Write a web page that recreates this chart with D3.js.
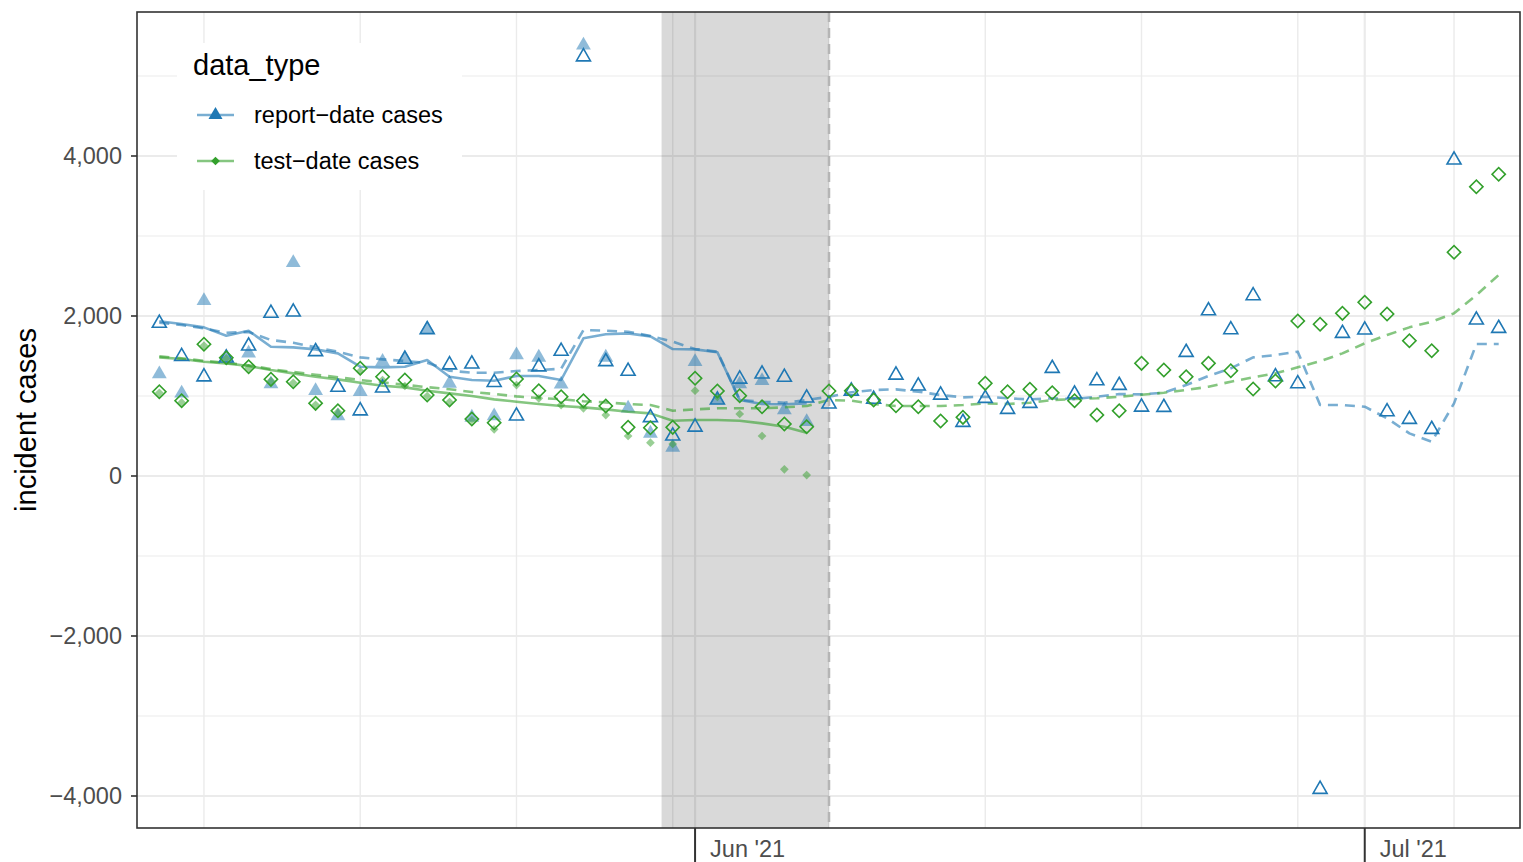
<!DOCTYPE html>
<html>
<head>
<meta charset="UTF-8">
<script src="https://d3js.org/d3.v7.min.js"></script>
<style>
  body { margin: 0; background: #fff; }
  svg { font-family: "Liberation Sans", Arial, sans-serif; display: block; }
</style>
</head>
<body>
<div id="chart"></div>
<script>
// one value per day, May 8 2021 .. Jul 7 2021
const firstDay = new Date(Date.UTC(2021, 4, 8));
const lastDay = new Date(Date.UTC(2021, 6, 7));
// earlier vintage ends Jun 6
const prevLastDay = new Date(Date.UTC(2021, 5, 6));

const reportCases = [1910,1495,1240,1475,1625,2035,2050,1555,1110,815,1100,1460,1830,1390,1400,1170,750,1365,1560,5240,1430,1310,730,500,
  612,950,1212,1275,1235,975,900,1062,960,1262,1125,1012,671,971,833,908,1346,1025,1191,1133,862,858,1546,2066,1829,2254,1241,1154,-3916,1783,
  1825,804,708,583,3950,1950,1846];
const testCases = [1054,941,1646,1479,1366,1208,1179,908,816,1346,1241,1200,1012,950,712,666,1212,1066,991,941,875,608,604,608,
  1221,1062,1004,866,650,616,1062,1066,950,877,866,687,733,1158,1054,1083,1041,941,762,816,1408,1325,1241,1408,1316,1087,1187,1937,1896,2033,
  2171,2025,1691,1566,2796,3616,3771];
const reportAvg = [1916,1887,1846,1791,1800,1700,1666,1608,1554,1483,1458,1437,1416,1316,1291,1291,1312,1325,1340,1825,1816,1804,1750,1679,
  1587,1554,950,929,916,950,991,1046,1075,1083,1054,1012,983,991,971,958,971,962,991,1025,1020,1041,1137,1250,1346,1483,1512,1554,887,887,
  866,721,533,429,908,1650,1650];
const testAvg = [1495,1470,1440,1415,1385,1335,1300,1265,1235,1200,1170,1140,1110,1085,1050,1025,995,975,960,935,920,900,887,816,
  833,846,846,846,858,875,950,941,900,875,875,875,887,908,900,916,950,962,971,991,1015,1041,1075,1116,1179,1233,1283,1358,1435,1533,
  1658,1762,1858,1929,2033,2262,2512];

// earlier vintage, May 8 .. Jun 6
const reportPrev = [1275,1035,2190,1485,1535,1150,2665,1065,750,1055,1430,1470,1837,1158,733,750,1512,1483,1146,5385,1483,846,533,358,
  1429,950,1150,1190,825,679];
const testPrev = [1040,920,1630,1470,1350,1190,1165,890,800,1310,1200,1125,1000,925,700,583,1137,971,887,846,762,500,416,400,
  1066,990,775,500,83,12];
const reportAvgPrev = [1935,1900,1858,1754,1816,1616,1608,1583,1533,1366,1358,1366,1450,1241,1200,1191,1250,1250,1200,1721,1771,1783,1745,1587,
  1583,1546,950,900,896,908];
const testAvgPrev = [1483,1462,1429,1408,1375,1325,1283,1241,1208,1166,1129,1108,1066,1033,1000,958,929,900,875,858,833,804,783,691,
  700,700,691,658,616,541];

const yMajor = [-4000, -2000, 0, 2000, 4000];
const yMinor = [-3000, -1000, 1000, 3000, 5000];
const legendItems = ["report\u2212date cases", "test\u2212date cases"];

// shaded window and cut-off line
const shadeStart = new Date(Date.UTC(2021, 4, 30, 12));
const shadeEnd = new Date(Date.UTC(2021, 5, 7));

const width = 1523, height = 862;
const panel = { left: 137, right: 1520, top: 12, bottom: 828 };

const blue = "#1f78b4", green = "#33a02c";
const blueLine = "rgba(31,120,180,0.6)", greenLine = "rgba(51,160,44,0.6)";
const blueFill = "rgba(31,120,180,0.5)", greenFill = "rgba(51,160,44,0.5)";

const days = d3.utcDay.range(firstDay, d3.utcDay.offset(lastDay, 1));
const prevDays = d3.utcDay.range(firstDay, d3.utcDay.offset(prevLastDay, 1));
const pack = (dd, vals) => dd.map((d, i) => ({ date: d, v: vals[i] }));

const x = d3.scaleUtc()
  .domain([new Date(Date.UTC(2021, 4, 7)), new Date(Date.UTC(2021, 6, 8))])
  .range([panel.left, 1521]);
const y = d3.scaleLinear().domain([-4400, 5800]).range([panel.bottom, panel.top]);

const svg = d3.select("#chart").append("svg")
  .attr("width", width).attr("height", height);

// grid
const grid = svg.append("g");
grid.selectAll(".ymin").data(yMinor).enter().append("line")
  .attr("x1", panel.left).attr("x2", panel.right)
  .attr("y1", d => y(d)).attr("y2", d => y(d))
  .attr("stroke", "#ebebeb").attr("stroke-width", 1.1);
grid.selectAll(".ymaj").data(yMajor).enter().append("line")
  .attr("x1", panel.left).attr("x2", panel.right)
  .attr("y1", d => y(d)).attr("y2", d => y(d))
  .attr("stroke", "#ebebeb").attr("stroke-width", 2.2);
const weeks = d3.utcMonday.range(x.domain()[0], x.domain()[1]);
grid.selectAll(".xmin").data(weeks).enter().append("line")
  .attr("x1", d => x(d)).attr("x2", d => x(d))
  .attr("y1", panel.top).attr("y2", panel.bottom)
  .attr("stroke", "#ebebeb").attr("stroke-width", 1.4);
const months = d3.utcMonth.range(x.domain()[0], x.domain()[1]);
grid.selectAll(".xmaj").data(months).enter().append("line")
  .attr("x1", d => x(d)).attr("x2", d => x(d))
  .attr("y1", panel.top).attr("y2", panel.bottom)
  .attr("stroke", "#ebebeb").attr("stroke-width", 2.2);

// shaded window
svg.append("rect")
  .attr("x", x(shadeStart)).attr("y", panel.top)
  .attr("width", x(shadeEnd) - x(shadeStart)).attr("height", panel.bottom - panel.top)
  .attr("fill", "rgba(0,0,0,0.15)");
svg.append("line")
  .attr("x1", x(shadeEnd)).attr("x2", x(shadeEnd))
  .attr("y1", panel.top).attr("y2", panel.bottom)
  .attr("stroke", "#b5b5b5").attr("stroke-width", 2.5)
  .attr("stroke-dasharray", "10,6");

const tri = d3.symbol().type(d3.symbolTriangle);
const sq = d3.symbol().type(d3.symbolSquare);

// earlier vintage points
svg.append("g").selectAll("path").data(pack(prevDays, reportPrev)).enter().append("path")
  .attr("d", tri.size(95)())
  .attr("transform", d => `translate(${x(d.date)},${y(d.v)})`)
  .attr("fill", blueFill);
svg.append("g").selectAll("path").data(pack(prevDays, testPrev)).enter().append("path")
  .attr("d", sq.size(38)())
  .attr("transform", d => `translate(${x(d.date)},${y(d.v)}) rotate(45)`)
  .attr("fill", greenFill);

// lines
const line = d3.line().x(d => x(d.date)).y(d => y(d.v)).defined(d => d.v != null);
function drawLine(dd, vals, color, dashed) {
  svg.append("path").datum(pack(dd, vals))
    .attr("d", line)
    .attr("fill", "none")
    .attr("stroke", color)
    .attr("stroke-width", 2.6)
    .attr("stroke-linejoin", "round")
    .attr("stroke-dasharray", dashed ? "10,7" : null);
}
drawLine(prevDays, reportAvgPrev, blueLine, false);
drawLine(prevDays, testAvgPrev, greenLine, false);
drawLine(days, reportAvg, blueLine, true);
drawLine(days, testAvg, greenLine, true);

// current points
svg.append("g").selectAll("path").data(pack(days, reportCases)).enter().append("path")
  .attr("d", tri.size(85)())
  .attr("transform", d => `translate(${x(d.date)},${y(d.v)})`)
  .attr("fill", "none").attr("stroke", blue).attr("stroke-width", 1.6);
svg.append("g").selectAll("path").data(pack(days, testCases)).enter().append("path")
  .attr("d", sq.size(88)())
  .attr("transform", d => `translate(${x(d.date)},${y(d.v)}) rotate(45)`)
  .attr("fill", "none").attr("stroke", green).attr("stroke-width", 1.6);

// legend
const legend = svg.append("g");
legend.append("rect")
  .attr("x", 177).attr("y", 43).attr("width", 285).attr("height", 147)
  .attr("fill", "#fff");
legend.append("text")
  .attr("x", 193).attr("y", 75)
  .attr("font-size", 29).attr("fill", "#000")
  .text("data_type");
legendItems.forEach((label, i) => {
  const cy = 115 + i * 46;
  legend.append("line")
    .attr("x1", 197).attr("x2", 234).attr("y1", cy).attr("y2", cy)
    .attr("stroke", i === 0 ? blueLine : greenLine).attr("stroke-width", 2.6);
  legend.append("path")
    .attr("d", i === 0 ? tri.size(85)() : sq.size(38)())
    .attr("transform", i === 0 ? `translate(215.5,${cy})` : `translate(215.5,${cy}) rotate(45)`)
    .attr("fill", i === 0 ? blue : green);
  legend.append("text")
    .attr("x", 254).attr("y", cy).attr("dy", "0.35em")
    .attr("font-size", 23.5).attr("fill", "#000")
    .text(label);
});

// panel border
svg.append("rect")
  .attr("x", panel.left).attr("y", panel.top)
  .attr("width", panel.right - panel.left).attr("height", panel.bottom - panel.top)
  .attr("fill", "none").attr("stroke", "#333").attr("stroke-width", 1.6);

// y axis
const yAxis = svg.append("g");
yAxis.selectAll("line").data(yMajor).enter().append("line")
  .attr("x1", panel.left - 6).attr("x2", panel.left)
  .attr("y1", d => y(d)).attr("y2", d => y(d))
  .attr("stroke", "#333").attr("stroke-width", 1.6);
yAxis.selectAll("text").data(yMajor).enter().append("text")
  .attr("x", panel.left - 15).attr("y", d => y(d)).attr("dy", "0.35em")
  .attr("text-anchor", "end").attr("font-size", 23.5).attr("fill", "#4d4d4d")
  .text(d => d3.format(",")(d).replace("-", "\u2212"));
svg.append("text")
  .attr("transform", `translate(36,${(panel.top + panel.bottom) / 2}) rotate(-90)`)
  .attr("text-anchor", "middle").attr("font-size", 29).attr("fill", "#000")
  .text("incident cases");

// x axis: long ticks with labels to the right
const xAxis = svg.append("g");
xAxis.selectAll("line").data(months).enter().append("line")
  .attr("x1", d => x(d)).attr("x2", d => x(d))
  .attr("y1", panel.bottom).attr("y2", height)
  .attr("stroke", "#333").attr("stroke-width", 2);
xAxis.selectAll("text").data(months).enter().append("text")
  .attr("x", d => x(d) + 15).attr("y", 857)
  .attr("font-size", 23.5).attr("fill", "#4d4d4d")
  .text(d => d3.utcFormat("%b '%y")(d));
</script>
</body>
</html>
